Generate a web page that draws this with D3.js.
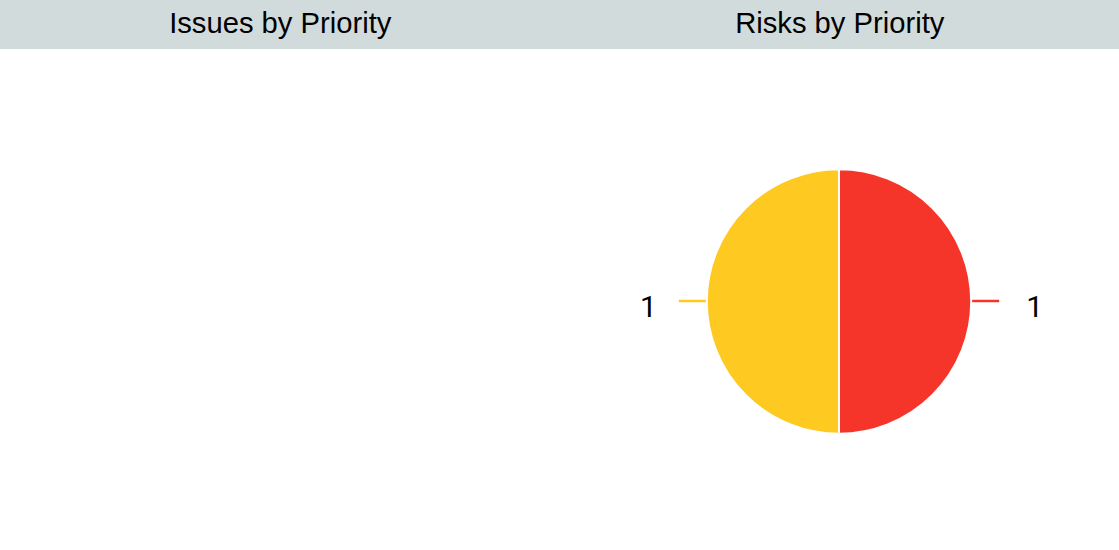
<!DOCTYPE html>
<html>
<head>
<meta charset="utf-8">
<script src="https://cdn.jsdelivr.net/npm/d3@7"></script>
<style>
  html, body { margin: 0; padding: 0; background: #fff; }
  svg { display: block; }
</style>
</head>
<body>
<svg id="chart" width="1119" height="550"></svg>
<script>
const panelTitles = ["Issues by Priority", "Risks by Priority"];
const issuePriorities = [];
const issueCounts = [];
const riskPriorities = ["High", "Medium"];
const riskCounts = [1, 1];
const priorityColors = { High: "#f5342a", Medium: "#fec920", Low: "#4caf50" };

const W = 1119, H = 550, headerH = 49;
const svg = d3.select("#chart");

svg.append("rect").attr("x", 0).attr("y", 0).attr("width", W).attr("height", headerH).attr("fill", "#d1dbdb");

const panelX = d3.scaleBand().domain(panelTitles).range([0, W]);

svg.selectAll("text.title").data(panelTitles).enter().append("text")
  .attr("class", "title")
  .attr("x", d => panelX(d) + panelX.bandwidth() / 2 + 0.5)
  .attr("y", 32.5)
  .attr("text-anchor", "middle")
  .attr("font-family", "'Liberation Sans', Arial, sans-serif")
  .attr("font-size", 29.2)
  .attr("fill", "#000")
  .text(d => d);

function drawPie(title, cats, vals) {
  if (!vals.length) return;
  const cx = panelX(title) + panelX.bandwidth() / 2 - 0.25;
  const cy = 301.5;
  const r = 132.2;
  const data = cats.map((c, i) => ({ cat: c, value: vals[i] }));
  const pie = d3.pie().sort(null).value(d => d.value);
  const arcs = pie(data);
  const arc = d3.arc().innerRadius(0).outerRadius(r);
  const g = svg.append("g").attr("transform", `translate(${cx},${cy})`);
  g.selectAll("path").data(arcs).enter().append("path")
    .attr("d", arc)
    .attr("fill", d => priorityColors[d.data.cat])
    .attr("stroke", "#fff")
    .attr("stroke-width", 2);
  arcs.forEach(a => {
    const mid = (a.startAngle + a.endAngle) / 2;
    const dx = Math.sin(mid), dy = -Math.cos(mid);
    const side = dx >= 0 ? 1 : -1;
    g.append("line")
      .attr("x1", dx * (r + 1)).attr("y1", dy * (r + 1) - 0.5)
      .attr("x2", dx * (r + 28)).attr("y2", dy * (r + 28) - 0.5)
      .attr("stroke", priorityColors[a.data.cat])
      .attr("stroke-width", 2.5);
    const off = side > 0 ? r + 63.5 : r + 58.5;
    g.append("text")
      .attr("x", dx * off)
      .attr("y", dy * off + 15.5)
      .attr("text-anchor", "middle")
      .attr("font-family", "Roboto, 'Noto Sans', sans-serif")
      .attr("font-weight", 400)
      .attr("font-size", 30)
      .attr("fill", "#000")
      .text(a.data.value);
  });
}

drawPie(panelTitles[0], issuePriorities, issueCounts);
drawPie(panelTitles[1], riskPriorities, riskCounts);
</script>
</body>
</html>
